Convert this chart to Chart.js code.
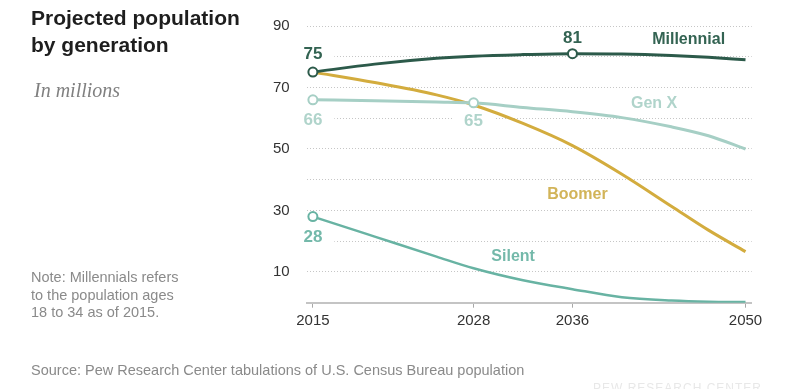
<!DOCTYPE html>
<html>
<head>
<meta charset="utf-8">
<script src="https://cdn.jsdelivr.net/npm/chart.js@4.4.0/dist/chart.umd.min.js"></script>
<style>
  body { margin: 0; background: #fff; }
  .lienzo { position: relative; width: 800px; height: 389px; overflow: hidden; font-family: "Liberation Sans", Arial, sans-serif; }
  canvas { position: absolute; left: 0; top: 0; }
  .titulo { position: absolute; left: 31px; top: 4px; font-size: 21px; line-height: 27px; font-weight: bold; color: #1e1e1e; }
  .subtitulo { position: absolute; left: 34px; top: 78px; font-family: "Liberation Serif", serif; font-style: italic; font-size: 20px; line-height: 24px; color: #808080; }
  .nota { position: absolute; left: 31px; top: 269px; font-size: 14.5px; line-height: 17.5px; color: #8a8a8a; }
  .fuente { position: absolute; left: 31px; top: 361px; font-size: 14.5px; line-height: 18px; color: #8a8a8a; white-space: nowrap; }
  .marca { position: absolute; left: 593px; top: 381px; font-size: 12px; letter-spacing: 1px; color: #e8e8e8; white-space: nowrap; }
</style>
</head>
<body>
<div class="lienzo">
  <canvas id="grafica" width="800" height="389"></canvas>
  <div class="titulo">Projected population<br>by generation</div>
  <div class="subtitulo">In millions</div>
  <div class="nota">Note: Millennials refers<br>to the population ages<br>18 to 34 as of 2015.</div>
  <div class="fuente">Source: Pew Research Center tabulations of U.S. Census Bureau population</div>
  <div class="marca">PEW RESEARCH CENTER</div>
</div>
<script>
// DATOS (millones)
const anios = [2015, 2020, 2025, 2028, 2032, 2036, 2040, 2044, 2047, 2050];
const millennial = [75, 77.6, 79.5, 80.2, 80.7, 81, 80.9, 80.4, 79.8, 79.0];
const genX = [66, 65.7, 65.3, 65, 63.5, 62.1, 60.2, 57.2, 54.3, 50];
const boomer = [75, 71.6, 67.6, 64.3, 58.3, 51.1, 41.8, 31.4, 23.6, 16.6];
const silent = [28, 21.5, 15.0, 11.2, 7.3, 4.4, 1.8, 0.7, 0.3, 0.2];
const nombres = ["Millennial", "Gen X", "Boomer", "Silent"];
const etiquetasX = [2015, 2028, 2036, 2050];
const etiquetasY = [10, 30, 50, 70, 90];

const datos = [millennial, genX, boomer, silent];

// estilos de cada serie
const lineas = ["#2c5a4a", "#a6cfc5", "#d3ac3e", "#68b3a3"];
const textos = ["#336352", "#b0d4cb", "#d2b459", "#74b9aa"];
const grosor = [3, 3, 3, 2.5];

// puntos con circulo y valor escrito (dy = desplazamiento del texto)
const marcadores = [
  { serie: 0, indice: 0, dy: -18 },
  { serie: 0, indice: 5, dy: -15 },
  { serie: 1, indice: 0, dy: 21 },
  { serie: 1, indice: 3, dy: 18 },
  { serie: 3, indice: 0, dy: 21 }
];

// donde va el nombre de cada serie (en unidades del grafico)
const posNombres = [
  { anio: 2045.4, valor: 85.7 },
  { anio: 2042.6, valor: 64.7 },
  { anio: 2036.4, valor: 35.2 },
  { anio: 2031.2, valor: 15.0 }
];

const familia = '"Liberation Sans", Arial, sans-serif';

const etiquetas = {
  id: "etiquetas",
  beforeDatasetsDraw(chart) {
    const ctx = chart.ctx;
    ctx.save();
    ctx.font = "bold 17px " + familia;
    ctx.fillStyle = "#fff";
    marcadores.forEach(m => {
      const p = chart.getDatasetMeta(m.serie).data[m.indice];
      const ancho = ctx.measureText(String(datos[m.serie][m.indice])).width + 24;
      ctx.fillRect(p.x - ancho / 2, p.y + m.dy - 8, ancho, 16);
    });
    ctx.restore();
  },
  afterDatasetsDraw(chart) {
    const ctx = chart.ctx;
    const { x, y } = chart.scales;
    ctx.save();
    ctx.textAlign = "center";
    ctx.textBaseline = "middle";
    ctx.font = "bold 17px " + familia;
    marcadores.forEach(m => {
      const p = chart.getDatasetMeta(m.serie).data[m.indice];
      ctx.fillStyle = textos[m.serie];
      ctx.fillText(String(datos[m.serie][m.indice]), p.x, p.y + m.dy);
    });
    ctx.font = "bold 16px " + familia;
    posNombres.forEach((pos, i) => {
      ctx.fillStyle = textos[i];
      ctx.fillText(nombres[i], x.getPixelForValue(pos.anio), y.getPixelForValue(pos.valor));
    });
    ctx.restore();
  }
};

const conjuntos = datos.map((serie, i) => {
  const radios = serie.map((v, j) => marcadores.some(m => m.serie === i && m.indice === j) ? 4.5 : 0);
  return {
    label: nombres[i],
    data: anios.map((a, j) => ({ x: a, y: serie[j] })),
    borderColor: lineas[i],
    borderWidth: grosor[i],
    pointRadius: radios,
    pointBackgroundColor: "#fff",
    pointBorderColor: lineas[i],
    pointBorderWidth: 2,
    cubicInterpolationMode: "monotone",
    fill: false
  };
});

new Chart(document.getElementById("grafica"), {
  type: "line",
  data: { datasets: conjuntos },
  options: {
    responsive: false,
    animation: false,
    devicePixelRatio: 1,
    layout: { padding: { left: 266.7, right: 48.3, top: 17.3, bottom: 56.3 } },
    plugins: { legend: { display: false }, tooltip: { enabled: false } },
    scales: {
      x: {
        type: "linear",
        min: 2014.5,
        max: 2050.5,
        afterBuildTicks: escala => { escala.ticks = etiquetasX.map(v => ({ value: v })); },
        afterFit: escala => { escala.height = 30; },
        grid: { drawOnChartArea: false, drawTicks: true, tickLength: 5, color: "#a8a8a8" },
        border: { display: true, color: "#c4c4c4", width: 2 },
        ticks: { padding: 4, color: "#333", autoSkip: false, maxRotation: 0, font: { family: familia, size: 15 }, callback: v => String(v) }
      },
      y: {
        min: 0,
        max: 90,
        afterFit: escala => { escala.width = 40; },
        grid: { color: "#c6c6c6", lineWidth: 1, drawTicks: false },
        border: { display: false, dash: [1, 2] },
        ticks: { stepSize: 10, padding: 17, color: "#333", font: { family: familia, size: 15 }, callback: v => etiquetasY.includes(v) ? String(v) : "" }
      }
    }
  },
  plugins: [etiquetas]
});
</script>
</body>
</html>
